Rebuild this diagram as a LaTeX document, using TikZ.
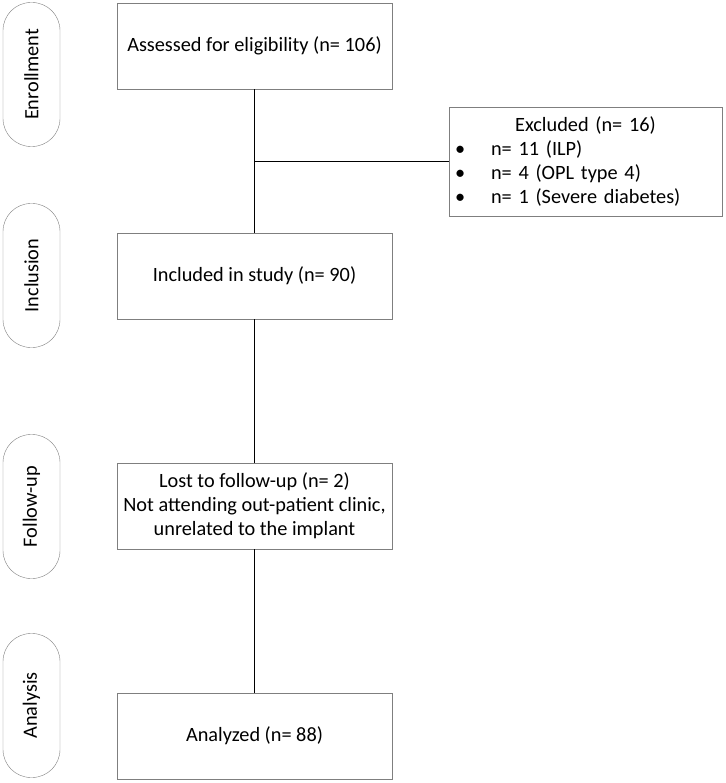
\documentclass[tikz,border=0pt]{standalone}
\usepackage{fontspec}
\setmainfont{Carlito}
\usepackage{tikz}
\usetikzlibrary{calc,positioning}
\definecolor{BoxLine}{HTML}{7F7F7F}
\definecolor{LinkLine}{HTML}{000000}

\begin{document}
\begin{tikzpicture}[
        x=1pt, y=-1pt,
        font=\fontsize{20.3}{24}\selectfont,
        stage/.style={
            draw=BoxLine,
            rounded corners=28pt,
            rotate=90,
            minimum width=144pt,
            minimum height=57pt,
            inner sep=0pt
        },
        box/.style={
            draw=BoxLine,
            line width=0.8pt,
            minimum width=275pt,
            minimum height=86pt,
            align=center,
            inner sep=2pt
        },
        exclbox/.style={
            draw=BoxLine,
            line width=0.8pt,
            minimum width=273pt,
            minimum height=109pt,
            text width=259pt,
            align=left,
            inner sep=7pt
        },
        link/.style={line width=1.4pt, draw=LinkLine}
    ]
        \useasboundingbox (0,0) rectangle (725,783);

        % study phases
        \node[stage] (enroll) at (31.5,74.5) {Enrollment};
        \node[stage] (inclusion) at (31.5,275.5) {Inclusion};
        \node[stage] (followup) at (31.5,506.5) {Follow-up};
        \node[stage] (analysis) at (31.5,705.5) {Analysis};

        % flow boxes
        \node[box] (assess) at (254.5,46) {Assessed for eligibility (n= 106)};
        \node[box] (included) at (254.5,276) {Included in study (n= 90)};
        \node[box] (lost) at (254.5,506) {Lost to follow-up (n= 2)\\Not attending out-patient clinic,\\unrelated to the implant};
        \node[box] (analyzed) at (254.5,736) {Analyzed (n= 88)};

        \node[exclbox] (excl) at (585.5,161.5) {%
            \makebox[\linewidth]{Excluded (n= 16)}\\
            \makebox[35pt][l]{\hspace{-1pt}\textbullet}n= 11 (ILP)\\
            \makebox[35pt][l]{\hspace{-1pt}\textbullet}n= 4 (OPL type 4)\\
            \makebox[35pt][l]{\hspace{-1pt}\textbullet}n= 1 (Severe diabetes)};

        \coordinate (branch) at (assess.south |- excl.west);

        \draw[link] (assess) -- (included);
        \draw[link] (branch) -- (excl.west);
        \draw[link] (included) -- (lost);
        \draw[link] (lost) -- (analyzed);
    \end{tikzpicture}
\end{document}
